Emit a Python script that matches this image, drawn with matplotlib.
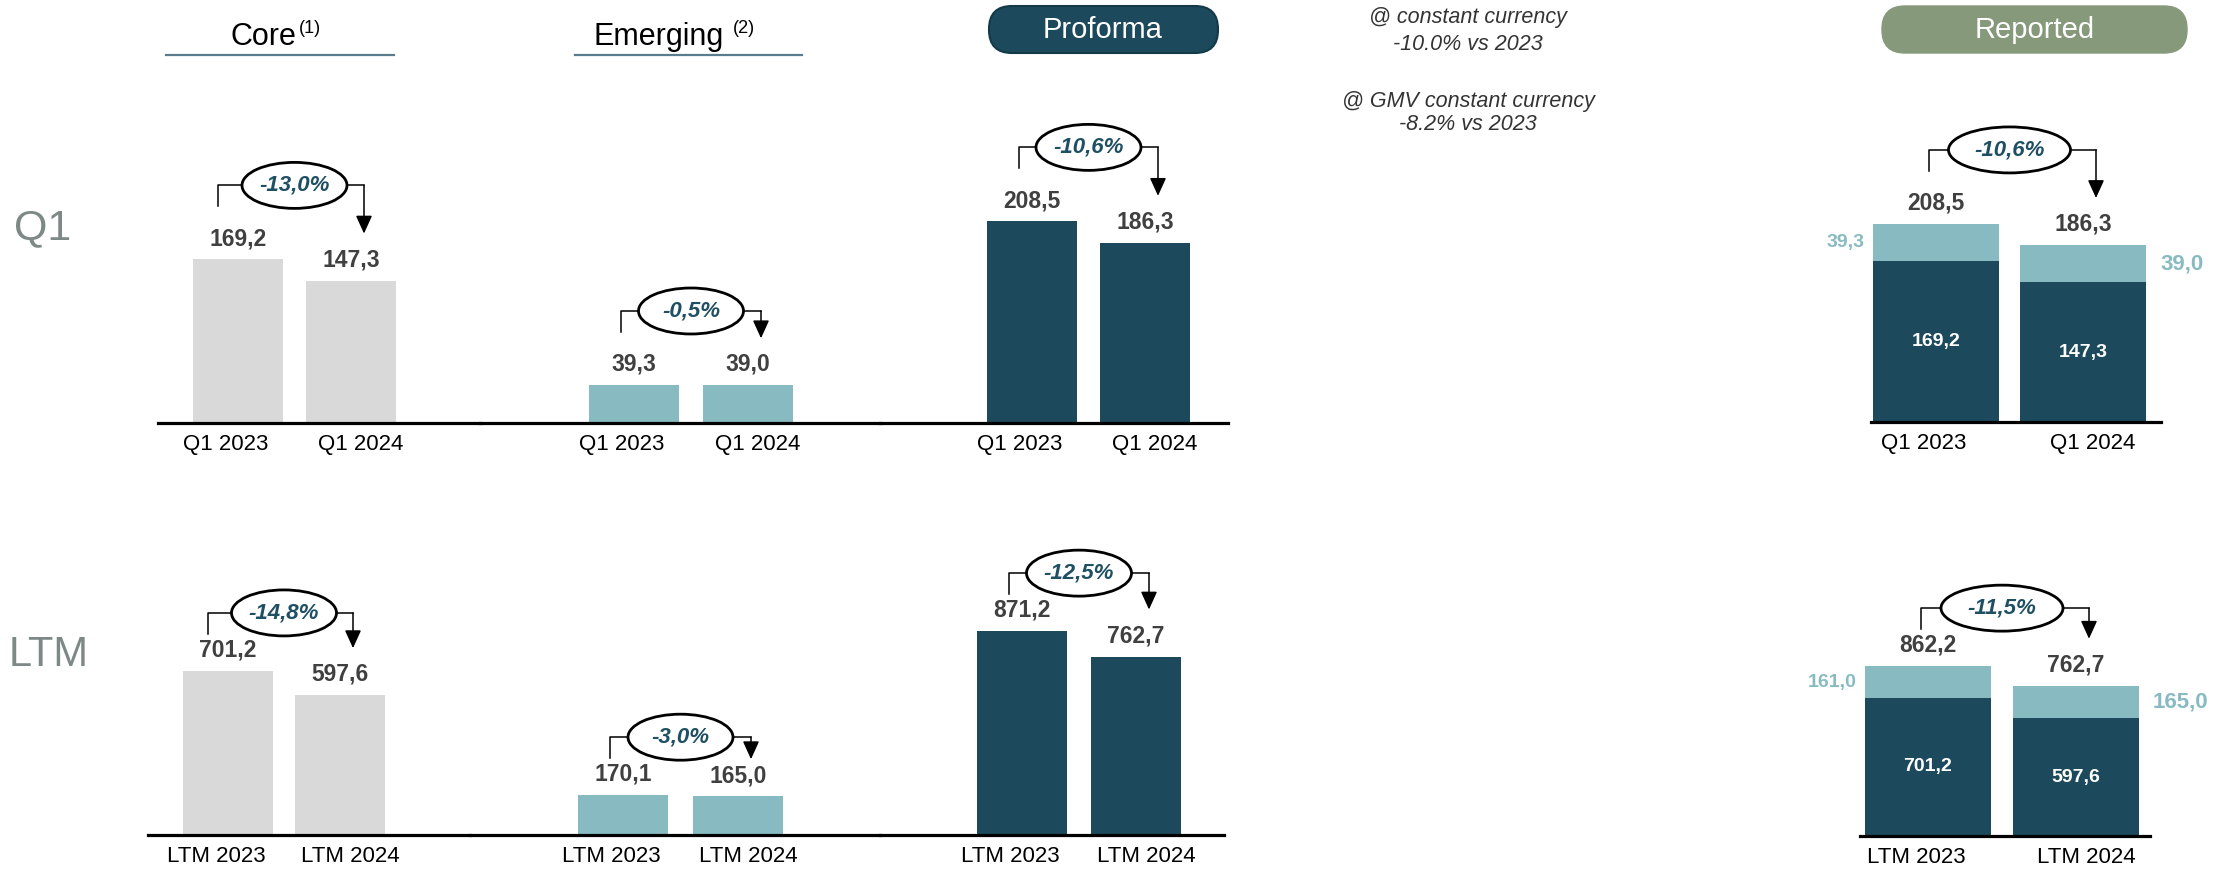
import matplotlib
matplotlib.use('Agg')
import matplotlib.pyplot as plt
from matplotlib.patches import Ellipse, FancyBboxPatch

# figure size in pixels
W, H = 2231, 876

periods_q1 = ['Q1 2023', 'Q1 2024']
periods_ltm = ['LTM 2023', 'LTM 2024']

core_q1 = [169.2, 147.3]
emerging_q1 = [39.3, 39.0]
proforma_q1 = [208.5, 186.3]
core_ltm = [701.2, 597.6]
emerging_ltm = [170.1, 165.0]
proforma_ltm = [871.2, 762.7]

reported_core_q1 = [169.2, 147.3]
reported_emerging_q1 = [39.3, 39.0]
reported_total_q1 = [208.5, 186.3]
reported_core_ltm = [701.2, 597.6]
reported_emerging_ltm = [161.0, 165.0]
reported_total_ltm = [862.2, 762.7]

# core, emerging, proforma, reported
growth_q1 = ['-13,0%', '-0,5%', '-10,6%', '-10,6%']
growth_ltm = ['-14,8%', '-3,0%', '-12,5%', '-11,5%']

GREY = '#d9d9d9'
LIGHT = '#88bbc1'
DARK = '#1c4a5c'
SAGE = '#869a7b'
VAL = '#404040'
PCT = '#1f4f62'
ROW = '#7d8987'

plt.rcParams['font.family'] = ['Liberation Sans', 'DejaVu Sans']

fig = plt.figure(figsize=(W / 100, H / 100), dpi=100)


def fmt(v):
    return f'{v:.1f}'.replace('.', ',')


def make_axes(left, right, base, c1, spacing, ppu, periods, height=300):
    ax = fig.add_axes([left / W, (H - base) / H, (right - left) / W, height / H])
    ax.set_xlim((left - c1) / spacing, (right - c1) / spacing)
    ax.set_ylim(0, height / ppu)
    ax.patch.set_visible(False)
    for s in ['top', 'right', 'left']:
        ax.spines[s].set_visible(False)
    ax.spines['bottom'].set_linewidth(2.3)
    ax.spines['bottom'].set_zorder(3)
    ax.set_yticks([])
    # period labels sit slightly wider apart than the bars
    ax.set_xticks([-12 / spacing, 1 + 10 / spacing], labels=periods)
    ax.tick_params(axis='x', length=0, pad=8, labelsize=16, labelcolor='black')
    return ax


def bracket(ax, values, label, spacing, ppu, gap, lo, ew=105):
    yc = max(values) + gap / ppu
    xl = lo / spacing
    xr = 1 + 13 / spacing
    w = ew / spacing
    tip = min(values[1] + 47 / ppu, yc - 22 / ppu)
    ax.plot([xl, xl, 0.5 - w / 2], [yc - 21 / ppu, yc, yc], color='black', lw=1.1, clip_on=False)
    ax.plot([0.5 + w / 2, xr], [yc, yc], color='black', lw=1.1, clip_on=False)
    ax.annotate('', xy=(xr, tip), xytext=(xr, yc), annotation_clip=False,
                arrowprops=dict(arrowstyle='-|>,head_length=0.55,head_width=0.25', mutation_scale=20,
                                color='black', lw=1.1, shrinkA=0, shrinkB=0))
    ax.add_patch(Ellipse((0.5, yc), w, 46 / ppu, facecolor='white', edgecolor='black',
                         lw=2, clip_on=False, zorder=5))
    ax.text(0.5, yc, label, ha='center', va='center', fontsize=16, fontweight='bold',
            style='italic', color=PCT, zorder=6)


def simple_panel(left, right, base, c1, spacing, ppu, periods, values, color, growth, gap, lo, bw=90):
    ax = make_axes(left, right, base, c1, spacing, ppu, periods)
    ax.bar([0, 1], values, width=bw / spacing, color=color, zorder=2)
    for i, v in enumerate(values):
        ax.annotate(fmt(v), (i, v), xytext=(0, 15), textcoords='offset points', ha='center',
                    va='center', fontsize=16.5, fontweight='bold', color=VAL, annotation_clip=False)
    bracket(ax, values, growth, spacing, ppu, gap, lo)
    return ax


def reported_panel(left, right, base, c1, spacing, ppu, periods, core, emerging, total, growth, gap, bw=126):
    ax = make_axes(left, right, base, c1, spacing, ppu, periods)
    w = bw / spacing
    ax.bar([0, 1], core, width=w, color=DARK, zorder=2)
    ax.bar([0, 1], emerging, width=w, bottom=core, color=LIGHT, zorder=2)
    for i, v in enumerate(total):
        ax.annotate(fmt(v), (i, v), xytext=(0, 15), textcoords='offset points', ha='center',
                    va='center', fontsize=16.5, fontweight='bold', color=VAL, annotation_clip=False)
        ax.text(i, core[i] / 2, fmt(core[i]), ha='center', va='center', fontsize=14,
                fontweight='bold', color='white', zorder=4)
    ax.text(-w / 2 - 8 / spacing, core[0] + emerging[0] / 2, fmt(emerging[0]), ha='right',
            va='center', fontsize=14, fontweight='bold', color=LIGHT)
    ax.text(1 + w / 2 + 14 / spacing, core[1] + emerging[1] / 2, fmt(emerging[1]), ha='left',
            va='center', fontsize=16, fontweight='bold', color=LIGHT)
    bracket(ax, total, growth, spacing, ppu, gap, -7, ew=122)
    return ax


# Q1 row
simple_panel(158, 480, 423, 238, 113, 0.967, periods_q1, core_q1, GREY, growth_q1[0], 74, -20)
simple_panel(480, 880, 423, 634, 114, 0.967, periods_q1, emerging_q1, LIGHT, growth_q1[1], 74, -13)
simple_panel(880, 1228, 423, 1032, 113, 0.967, periods_q1, proforma_q1, DARK, growth_q1[2], 74, -13)
reported_panel(1871, 2161, 422, 1936, 147, 0.95, periods_q1, reported_core_q1,
               reported_emerging_q1, reported_total_q1, growth_q1[3], 74)

# LTM row
simple_panel(148, 470, 835, 228, 112, 0.234, periods_ltm, core_ltm, GREY, growth_ltm[0], 58, -20)
simple_panel(470, 880, 835, 623, 115, 0.234, periods_ltm, emerging_ltm, LIGHT, growth_ltm[1], 58, -13)
simple_panel(880, 1224, 835, 1022, 114, 0.234, periods_ltm, proforma_ltm, DARK, growth_ltm[2], 58, -13)
reported_panel(1860, 2150, 836, 1928, 148, 0.197, periods_ltm, reported_core_ltm,
               reported_emerging_ltm, reported_total_ltm, growth_ltm[3], 58)

# headers, notes and row titles on a pixel-space overlay
top = fig.add_axes([0, 0, 1, 1])
top.set_xlim(0, W)
top.set_ylim(H, 0)
top.axis('off')
top.patch.set_visible(False)

top.text(296, 45, 'Core', ha='right', va='baseline', fontsize=22, color='black')
top.text(299, 33, '(1)', ha='left', va='baseline', fontsize=13, color='black')
top.plot([166, 394], [55, 55], color='#5a7c8c', lw=1.6)
top.text(724, 45, 'Emerging', ha='right', va='baseline', fontsize=22, color='black')
top.text(733, 33, '(2)', ha='left', va='baseline', fontsize=13, color='black')
top.plot([575, 802], [55, 55], color='#5a7c8c', lw=1.6)

top.add_patch(FancyBboxPatch((989, 6), 229, 47, boxstyle='round,pad=0,rounding_size=23',
                             facecolor=DARK, edgecolor='#143a48', lw=1.5))
top.text(1103, 30, 'Proforma', ha='center', va='center', fontsize=21, color='white')
top.add_patch(FancyBboxPatch((1882, 6), 305, 47, boxstyle='round,pad=0,rounding_size=23',
                             facecolor=SAGE, edgecolor=SAGE, lw=1))
top.text(2035, 30, 'Reported', ha='center', va='center', fontsize=21, color='white')

for y, s in [(18, '@ constant currency'), (44, '-10.0% vs 2023'),
             (101, '@ GMV constant currency'), (125, '-8.2% vs 2023')]:
    top.text(1468, y, s, ha='center', va='center', fontsize=15.5, style='italic', color='#333333')

top.text(43, 228, 'Q1', ha='center', va='center', fontsize=31, color=ROW)
top.text(49, 655, 'LTM', ha='center', va='center', fontsize=30, color=ROW)

fig.savefig('out.png', dpi=100)
